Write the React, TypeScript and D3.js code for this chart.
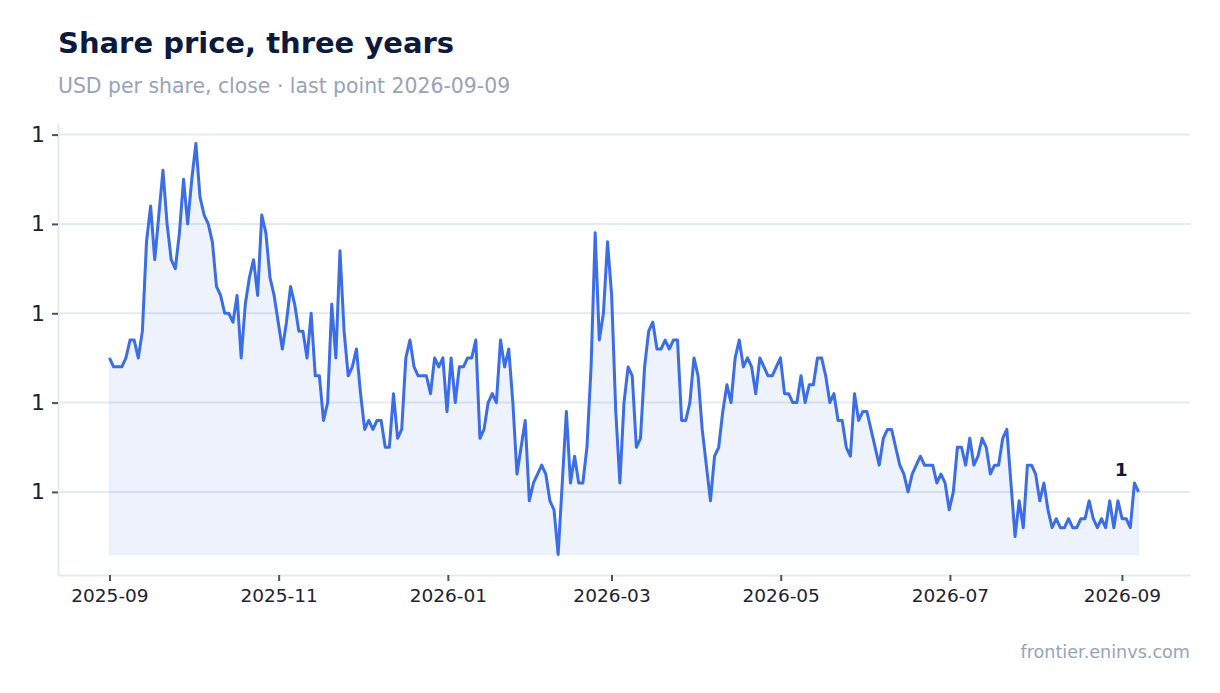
import { useEffect, useRef } from 'react'
import * as d3 from 'd3'

// closing prices (USD, two decimals)
const closeSepOct2025 = [
  1.15, 1.14, 1.14, 1.14, 1.15, 1.17, 1.17, 1.15, 1.18, 1.28,
  1.32, 1.26, 1.31, 1.36, 1.30, 1.26, 1.25, 1.29, 1.35, 1.30,
  1.35, 1.39, 1.33, 1.31, 1.30, 1.28, 1.23, 1.22, 1.20, 1.20,
  1.19, 1.22, 1.15, 1.21, 1.24, 1.26, 1.22, 1.31, 1.29, 1.24,
  1.22, 1.19, 1.16, 1.19, 1.23, 1.21, 1.18, 1.18, 1.15, 1.20,
]
const closeNovDec2025 = [
  1.13, 1.13, 1.08, 1.10, 1.21, 1.15, 1.27, 1.18, 1.13, 1.14,
  1.16, 1.11, 1.07, 1.08, 1.07, 1.08, 1.08, 1.05, 1.05, 1.11,
  1.06, 1.07, 1.15, 1.17, 1.14, 1.13, 1.13, 1.13, 1.11, 1.15,
  1.14, 1.15, 1.09, 1.15, 1.10, 1.14, 1.14, 1.15, 1.15, 1.17,
  1.06, 1.07, 1.10, 1.11, 1.10, 1.17, 1.14, 1.16, 1.10, 1.02,
]
const closeJanMar2026 = [
  1.05, 1.08, 0.99, 1.01, 1.02, 1.03, 1.02, 0.99, 0.98, 0.93,
  1.01, 1.09, 1.01, 1.04, 1.01, 1.01, 1.05, 1.14, 1.29, 1.17,
  1.20, 1.28, 1.22, 1.09, 1.01, 1.10, 1.14, 1.13, 1.05, 1.06,
  1.14, 1.18, 1.19, 1.16, 1.16, 1.17, 1.16, 1.17, 1.17, 1.08,
  1.08, 1.10, 1.15, 1.13, 1.07, 1.03, 0.99, 1.04, 1.05, 1.09,
]
const closeAprJun2026 = [
  1.12, 1.10, 1.15, 1.17, 1.14, 1.15, 1.14, 1.11, 1.15, 1.14,
  1.13, 1.13, 1.14, 1.15, 1.11, 1.11, 1.10, 1.10, 1.13, 1.10,
  1.12, 1.12, 1.15, 1.15, 1.13, 1.10, 1.11, 1.08, 1.08, 1.05,
  1.04, 1.11, 1.08, 1.09, 1.09, 1.07, 1.05, 1.03, 1.06, 1.07,
  1.07, 1.05, 1.03, 1.02, 1.00, 1.02, 1.03, 1.04, 1.03, 1.03,
]
const closeJulSep2026 = [
  1.03, 1.01, 1.02, 1.01, 0.98, 1.00, 1.05, 1.05, 1.03, 1.06,
  1.03, 1.04, 1.06, 1.05, 1.02, 1.03, 1.03, 1.06, 1.07, 1.01,
  0.95, 0.99, 0.96, 1.03, 1.03, 1.02, 0.99, 1.01, 0.98, 0.96,
  0.97, 0.96, 0.96, 0.97, 0.96, 0.96, 0.97, 0.97, 0.99, 0.97,
  0.96, 0.97, 0.96, 0.99, 0.96, 0.99, 0.97, 0.97, 0.96, 1.01,
  1.00,
]

// first and last trading dates on the time axis
const firstDate = '2025-09-01'
const lastDate = '2026-09-07'

const yTicks = [1.0, 1.1, 1.2, 1.3, 1.4]

const title = 'Share price, three years'
const subtitle = 'USD per share, close · last point 2026-09-09'
const source = 'frontier.eninvs.com'

interface Point {
  date: Date
  close: number
}

const closes = [
  ...closeSepOct2025,
  ...closeNovDec2025,
  ...closeJanMar2026,
  ...closeAprJun2026,
  ...closeJulSep2026,
]

export default function App() {
  const svgRef = useRef<SVGSVGElement>(null)

  useEffect(() => {
    if (!svgRef.current) return

    const width = 1220
    const height = 693
    const margin = { top: 123, right: 30, bottom: 118, left: 58 }
    const font = '"DejaVu Sans", sans-serif'

    const svg = d3.select(svgRef.current)
    svg.selectAll('*').remove()
    svg.attr('width', width).attr('height', height)

    const t0 = new Date(firstDate + 'T00:00:00Z').getTime()
    const t1 = new Date(lastDate + 'T00:00:00Z').getTime()
    const step = (t1 - t0) / (closes.length - 1)
    const data: Point[] = closes.map((c, i) => ({ date: new Date(t0 + i * step), close: c }))

    const innerRight = width - margin.right
    const innerBottom = height - margin.bottom

    // 5% padding on both axes
    const span = t1 - t0
    const x = d3.scaleUtc()
      .domain([new Date(t0 - span * 0.05), new Date(t1 + span * 0.05)])
      .range([margin.left, innerRight])

    const [yMin, yMax] = d3.extent(data, d => d.close) as [number, number]
    const yPad = (yMax - yMin) * 0.05
    const y = d3.scaleLinear()
      .domain([yMin - yPad, yMax + yPad])
      .range([innerBottom, margin.top])

    // titles
    svg.append('text')
      .attr('x', 58)
      .attr('y', 53)
      .attr('font-family', font)
      .attr('font-size', 29)
      .attr('font-weight', 'bold')
      .attr('fill', '#0c1a3e')
      .text(title)

    svg.append('text')
      .attr('x', 58)
      .attr('y', 93)
      .attr('font-family', font)
      .attr('font-size', 20.4)
      .attr('fill', '#97a3b8')
      .text(subtitle)

    svg.append('text')
      .attr('x', 1190)
      .attr('y', 658)
      .attr('text-anchor', 'end')
      .attr('font-family', font)
      .attr('font-size', 17.6)
      .attr('fill', '#97a3b8')
      .text(source)

    // grid
    svg.append('g')
      .selectAll('line')
      .data(yTicks)
      .enter()
      .append('line')
      .attr('x1', margin.left)
      .attr('x2', innerRight)
      .attr('y1', d => y(d))
      .attr('y2', d => y(d))
      .attr('stroke', '#e5e9f1')
      .attr('stroke-width', 2)

    // area + line
    const area = d3.area<Point>()
      .x(d => x(d.date))
      .y0(y(yMin))
      .y1(d => y(d.close))

    svg.append('path')
      .datum(data)
      .attr('d', area)
      .attr('fill', '#3b6ee8')
      .attr('fill-opacity', 0.09)
      .attr('stroke', '#3b6ee8')
      .attr('stroke-opacity', 0.06)
      .attr('stroke-width', 1.5)

    const line = d3.line<Point>()
      .x(d => x(d.date))
      .y(d => y(d.close))

    svg.append('path')
      .datum(data)
      .attr('d', line)
      .attr('fill', 'none')
      .attr('stroke', '#3a6de6')
      .attr('stroke-width', 3)
      .attr('stroke-linejoin', 'round')

    // axes
    const xAxis = svg.append('g')
      .attr('transform', `translate(0,${innerBottom})`)
      .call(
        d3.axisBottom(x)
          .ticks(d3.utcMonth.every(2) as d3.TimeInterval)
          .tickFormat(d => d3.utcFormat('%Y-%m')(d as Date))
          .tickSize(6)
          .tickPadding(8)
          .tickSizeOuter(0)
      )
    xAxis.select('.domain').attr('stroke', '#e5e9f1').attr('stroke-width', 2)
    xAxis.selectAll('.tick line').attr('stroke', '#4a5162').attr('stroke-width', 2)
    xAxis.selectAll('.tick text')
      .attr('font-family', font)
      .attr('font-size', 18.5)
      .attr('fill', '#1d2233')

    const yAxis = svg.append('g')
      .attr('transform', `translate(${margin.left},0)`)
      .call(
        d3.axisLeft(y)
          .tickValues(yTicks)
          .tickFormat(d3.format('.0f'))
          .tickSize(6)
          .tickPadding(7)
          .tickSizeOuter(0)
      )
    yAxis.select('.domain').attr('stroke', '#e5e9f1').attr('stroke-width', 2)
    yAxis.selectAll('.tick line').attr('stroke', '#4a5162').attr('stroke-width', 2)
    yAxis.selectAll('.tick text')
      .attr('font-family', font)
      .attr('font-size', 22)
      .attr('fill', '#1d2233')

    // last value label
    const last = data[data.length - 1]
    svg.append('text')
      .attr('x', x(last.date) - 11)
      .attr('y', y(last.close) - 16)
      .attr('text-anchor', 'end')
      .attr('font-family', font)
      .attr('font-size', 18.5)
      .attr('font-weight', 'bold')
      .attr('fill', '#0c1a3e')
      .text(d3.format('.0f')(last.close))
  }, [])

  return (
    <div style={{ position: 'absolute', left: 0, top: 0, background: '#ffffff' }}>
      <svg ref={svgRef} style={{ display: 'block' }} />
    </div>
  )
}
